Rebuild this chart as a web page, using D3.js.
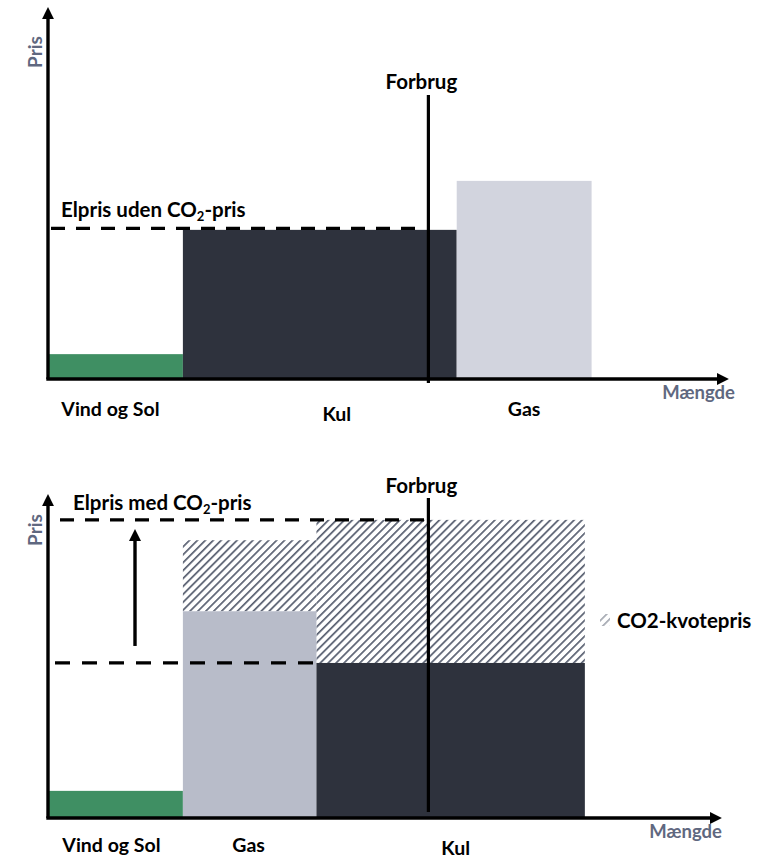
<!DOCTYPE html>
<html>
<head>
<meta charset="utf-8">
<script src="https://cdn.jsdelivr.net/npm/d3@7"></script>
<style>
  html, body { margin: 0; padding: 0; background: #ffffff; }
  svg { display: block; }
  text { font-family: Lato, "Open Sans", sans-serif; font-weight: 700; }
</style>
</head>
<body>
<svg id="chart" width="764" height="858"></svg>
<script>
// Merit order without a CO2 price (upper panel)
const topCategories = ["Vind og Sol", "Kul", "Gas"];
const topQuantities = [10, 20.3, 10];
const topPrices = [6.7, 40.2, 53.4];

// Merit order with a CO2 price (lower panel)
const bottomCategories = ["Vind og Sol", "Gas", "Kul"];
const bottomQuantities = [10, 9.9, 19.9];
const bottomPrices = [8.4, 64, 48];
const bottomCo2 = [0, 22, 44.3];

// Demand (Forbrug) on the quantity axis
const demand = 28.2;

const colors = {
  "Vind og Sol": "#3f8f63",
  "Kul": "#2e323d",
  "GasTop": "#d2d4de",
  "GasBottom": "#b8bcc9",
  hatch: "#585f70",
  axisLabel: "#5f6880"
};

const svg = d3.select("#chart");
const defs = svg.append("defs");

// Diagonal hatch used for the CO2 share
const P = 5.6;
const pat = defs.append("pattern")
  .attr("id", "hatch")
  .attr("patternUnits", "userSpaceOnUse")
  .attr("width", P).attr("height", P)
  .attr("patternTransform", "rotate(45)");
pat.append("rect").attr("width", P).attr("height", P).attr("fill", "#ffffff");
pat.append("line")
  .attr("x1", 0).attr("y1", 0).attr("x2", 0).attr("y2", P)
  .attr("stroke", colors.hatch).attr("stroke-width", 3.4);

// Filled arrowhead for axes and the price arrow
defs.append("marker")
  .attr("id", "arrow")
  .attr("viewBox", "0 0 10 10")
  .attr("refX", 6).attr("refY", 5)
  .attr("markerWidth", 3.6).attr("markerHeight", 3.6)
  .attr("markerUnits", "strokeWidth")
  .attr("orient", "auto")
  .append("path")
  .attr("d", "M0,0 L10,5 L0,10 Z")
  .attr("fill", "#000");

function stack(quantities) {
  let acc = 0;
  return quantities.map(q => { const s = acc; acc += q; return [s, acc]; });
}

function co2Label(g, x, y, before, after) {
  const t = g.append("text").attr("x", x).attr("y", y).attr("font-size", 20.5).attr("fill", "#000");
  t.append("tspan").text(before + "CO");
  t.append("tspan").attr("font-size", 13).attr("dy", 4).text("2");
  t.append("tspan").attr("dy", -4).text(after);
}

function axes(g, xEnd, yTop, originX, originY, prisY, maengdeX, maengdeY) {
  g.append("line")
    .attr("x1", originX).attr("y1", originY)
    .attr("x2", originX).attr("y2", yTop)
    .attr("stroke", "#000").attr("stroke-width", 3.4)
    .attr("marker-end", "url(#arrow)");
  g.append("line")
    .attr("x1", originX - 1.7).attr("y1", originY)
    .attr("x2", xEnd).attr("y2", originY)
    .attr("stroke", "#000").attr("stroke-width", 3.4)
    .attr("marker-end", "url(#arrow)");
  g.append("text")
    .attr("transform", `translate(42,${prisY}) rotate(-90)`)
    .attr("text-anchor", "middle")
    .attr("font-size", 19).attr("fill", colors.axisLabel)
    .text("Pris");
  g.append("text")
    .attr("x", maengdeX).attr("y", maengdeY)
    .attr("text-anchor", "end")
    .attr("font-size", 18.5).attr("fill", colors.axisLabel)
    .text("Mængde");
}

// ---------- Upper panel ----------
{
  const g = svg.append("g");
  const x = d3.scaleLinear().domain([0, 45]).range([48, 655]);
  const y = d3.scaleLinear().domain([0, 100]).range([379, 8]);
  const spans = stack(topQuantities);
  const fills = [colors["Vind og Sol"], colors["Kul"], colors.GasTop];

  g.selectAll("rect.bar").data(topCategories).join("rect")
    .attr("class", "bar")
    .attr("x", (d, i) => x(spans[i][0]))
    .attr("width", (d, i) => x(spans[i][1]) - x(spans[i][0]))
    .attr("y", (d, i) => y(topPrices[i]))
    .attr("height", (d, i) => y(0) - y(topPrices[i]))
    .attr("fill", (d, i) => fills[i]);

  // Price level set by the marginal plant (Kul)
  const kulPrice = topPrices[topCategories.indexOf("Kul")];
  g.append("line")
    .attr("x1", 51).attr("x2", x(demand) - 4)
    .attr("y1", y(kulPrice) - 1.5).attr("y2", y(kulPrice) - 1.5)
    .attr("stroke", "#000").attr("stroke-width", 3.2)
    .attr("stroke-dasharray", "14,11");
  co2Label(g, 61, 217, "Elpris uden ", "-pris");

  // Demand line
  g.append("line")
    .attr("x1", x(demand)).attr("x2", x(demand))
    .attr("y1", 95).attr("y2", 383)
    .attr("stroke", "#000").attr("stroke-width", 3.2);
  g.append("text").attr("x", x(demand) - 7).attr("y", 89)
    .attr("text-anchor", "middle").attr("font-size", 20.5).text("Forbrug");

  axes(g, 724, 12, 48, 379, 52, 735, 399);

  const labelShift = { "Vind og Sol": [-5, 416], "Kul": [17, 421], "Gas": [0, 416] };
  g.selectAll("text.cat").data(topCategories).join("text")
    .attr("class", "cat")
    .attr("x", (d, i) => (x(spans[i][0]) + x(spans[i][1])) / 2 + labelShift[d][0])
    .attr("y", d => labelShift[d][1])
    .attr("text-anchor", "middle")
    .attr("font-size", 19.5)
    .text(d => d);
}

// ---------- Lower panel ----------
{
  const g = svg.append("g");
  const x = d3.scaleLinear().domain([0, 45]).range([48, 655]);
  const y = d3.scaleLinear().domain([0, 100]).range([818, 495]);
  const spans = stack(bottomQuantities);
  const fills = [colors["Vind og Sol"], colors.GasBottom, colors["Kul"]];

  g.selectAll("rect.co2").data(bottomCategories).join("rect")
    .attr("class", "co2")
    .attr("x", (d, i) => x(spans[i][0]))
    .attr("width", (d, i) => x(spans[i][1]) - x(spans[i][0]))
    .attr("y", (d, i) => y(bottomPrices[i] + bottomCo2[i]))
    .attr("height", (d, i) => y(bottomPrices[i]) - y(bottomPrices[i] + bottomCo2[i]))
    .attr("fill", "url(#hatch)");

  g.selectAll("rect.bar").data(bottomCategories).join("rect")
    .attr("class", "bar")
    .attr("x", (d, i) => x(spans[i][0]))
    .attr("width", (d, i) => x(spans[i][1]) - x(spans[i][0]))
    .attr("y", (d, i) => y(bottomPrices[i]))
    .attr("height", (d, i) => y(0) - y(bottomPrices[i]))
    .attr("fill", (d, i) => fills[i]);

  const k = bottomCategories.indexOf("Kul");
  const priceLow = bottomPrices[k];
  const priceHigh = bottomPrices[k] + bottomCo2[k];

  g.append("line")
    .attr("x1", 55).attr("x2", x(spans[k][0]))
    .attr("y1", y(priceLow)).attr("y2", y(priceLow))
    .attr("stroke", "#000").attr("stroke-width", 3.2)
    .attr("stroke-dasharray", "15,12");
  g.append("line")
    .attr("x1", 60).attr("x2", x(demand))
    .attr("y1", y(priceHigh)).attr("y2", y(priceHigh))
    .attr("stroke", "#000").attr("stroke-width", 3.2)
    .attr("stroke-dasharray", "14,11");
  co2Label(g, 73, 510, "Elpris med ", "-pris");

  // Price rise arrow
  g.append("line")
    .attr("x1", 135).attr("x2", 135)
    .attr("y1", y(priceLow) - 17).attr("y2", y(priceHigh) + 14)
    .attr("stroke", "#000").attr("stroke-width", 3.4)
    .attr("marker-end", "url(#arrow)");

  // Demand line
  g.append("line")
    .attr("x1", x(demand)).attr("x2", x(demand))
    .attr("y1", 498).attr("y2", 812)
    .attr("stroke", "#000").attr("stroke-width", 3.2);
  g.append("text").attr("x", x(demand) - 7).attr("y", 493)
    .attr("text-anchor", "middle").attr("font-size", 20.5).text("Forbrug");

  axes(g, 717, 499, 48, 818, 530, 722, 838);

  // Legend for the CO2 share
  g.append("rect").attr("x", 600).attr("y", 614).attr("width", 10).attr("height", 12)
    .attr("fill", "url(#hatch)").attr("opacity", 0.55);
  g.append("text").attr("x", 617).attr("y", 628).attr("font-size", 20.5).text("CO2-kvotepris");

  const labelShift = { "Vind og Sol": [-4, 852], "Gas": [-1, 852], "Kul": [5, 855] };
  g.selectAll("text.cat").data(bottomCategories).join("text")
    .attr("class", "cat")
    .attr("x", (d, i) => (x(spans[i][0]) + x(spans[i][1])) / 2 + labelShift[d][0])
    .attr("y", d => labelShift[d][1])
    .attr("text-anchor", "middle")
    .attr("font-size", 19.5)
    .text(d => d);
}
</script>
</body>
</html>
